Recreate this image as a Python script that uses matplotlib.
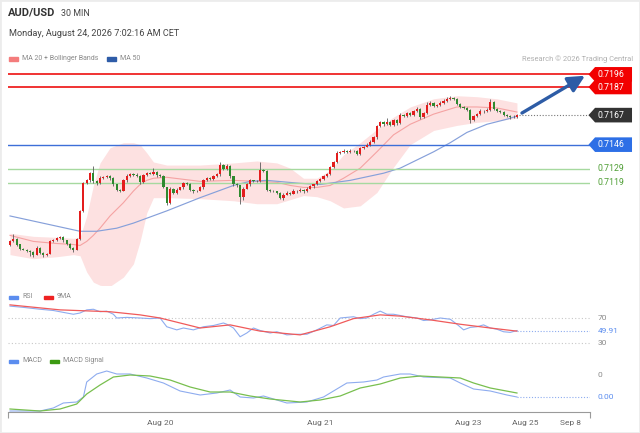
import numpy as np
import matplotlib
matplotlib.use("Agg")
import matplotlib.pyplot as plt
from matplotlib.path import Path
from matplotlib.patches import Rectangle

plt.rcParams['font.family'] = ['Roboto', 'DejaVu Sans']

# ---------------- data ----------------
first_open = 0.70750
closes = [
    0.70772, 0.70787, 0.70750, 0.70721, 0.70714, 0.70707, 0.70699, 0.70678, 0.70728, 0.70692,
    0.70678, 0.70685, 0.70772, 0.70779, 0.70794, 0.70801, 0.70779, 0.70757, 0.70728, 0.70714,
    0.70787, 0.70989, 0.71185, 0.71206, 0.71257, 0.71199, 0.71185, 0.71221, 0.71228, 0.71235,
    0.71221, 0.71177, 0.71141, 0.71134, 0.71206, 0.71235, 0.71250, 0.71243, 0.71235, 0.71192,
    0.71243, 0.71257, 0.71254, 0.71264, 0.71243, 0.71235, 0.71156, 0.71047, 0.71148, 0.71119,
    0.71141, 0.71156, 0.71185, 0.71182, 0.71141, 0.71127, 0.71134, 0.71156, 0.71206, 0.71221,
    0.71218, 0.71235, 0.71250, 0.71315, 0.71286, 0.71308, 0.71235, 0.71177, 0.71170, 0.71090,
    0.71148, 0.71177, 0.71206, 0.71199, 0.71202, 0.71279, 0.71272, 0.71141, 0.71134, 0.71127,
    0.71119, 0.71083, 0.71105, 0.71119, 0.71112, 0.71134, 0.71127, 0.71141, 0.71127, 0.71148,
    0.71163, 0.71177, 0.71199, 0.71214, 0.71235, 0.71250, 0.71301, 0.71337, 0.71402, 0.71409,
    0.71417, 0.71409, 0.71417, 0.71414, 0.71395, 0.71438, 0.71446, 0.71460, 0.71482, 0.71511,
    0.71590, 0.71619, 0.71605, 0.71619, 0.71598, 0.71634, 0.71612, 0.71670, 0.71663, 0.71685,
    0.71670, 0.71699, 0.71714, 0.71656, 0.71685, 0.71743, 0.71757, 0.71735, 0.71740, 0.71757,
    0.71772, 0.71786, 0.71793, 0.71786, 0.71750, 0.71728, 0.71721, 0.71706, 0.71634, 0.71663,
    0.71677, 0.71699, 0.71696, 0.71706, 0.71764, 0.71714, 0.71699, 0.71692, 0.71670, 0.71663,
    0.71660, 0.71656, 0.71670]
upper_wick_pips = [
    0.8, 4.0, 0.6, 0.6, 0.5, 0.6, 0.5, 0.6, 0.8, 0.6,
    0.5, 0.6, 1.0, 0.8, 1.0, 0.8, 0.6, 0.5, 0.6, 0.5,
    0.8, 0.5, 1.0, 0.8, 1.0, 5.0, 0.8, 1.5, 0.6, 1.2,
    0.6, 0.8, 0.5, 0.6, 1.0, 1.5, 1.0, 0.6, 1.2, 0.8,
    1.0, 0.8, 1.0, 3.0, 0.6, 0.8, 0.8, 0.5, 1.0, 0.6,
    0.8, 0.6, 1.0, 0.8, 0.6, 0.5, 0.6, 0.8, 1.0, 0.8,
    0.6, 0.8, 1.0, 2.0, 1.0, 1.2, 0.6, 0.5, 0.8, 0.5,
    1.0, 0.8, 1.0, 0.6, 0.8, 6.0, 1.0, 0.5, 0.6, 0.5,
    0.6, 0.5, 0.8, 0.8, 0.6, 0.8, 0.6, 0.8, 0.5, 0.8,
    0.8, 0.6, 0.8, 1.0, 0.8, 1.0, 1.0, 0.8, 1.2, 0.8,
    1.0, 0.6, 1.0, 0.6, 0.5, 0.8, 0.8, 1.0, 0.8, 1.0,
    1.0, 1.0, 0.8, 3.0, 0.6, 1.0, 0.8, 1.5, 0.8, 1.0,
    0.6, 1.0, 1.2, 0.6, 0.8, 2.0, 1.0, 0.6, 0.8, 1.0,
    1.0, 1.5, 1.5, 0.8, 0.6, 0.5, 0.8, 0.6, 0.8, 1.0,
    1.0, 1.2, 0.8, 1.5, 2.0, 0.8, 0.6, 0.6, 0.5, 0.8,
    0.6, 0.8, 1.0]
lower_wick_pips = [
    0.8, 0.6, 1.0, 0.8, 0.6, 0.8, 3.0, 1.5, 0.6, 1.0,
    2.0, 0.8, 0.6, 0.5, 0.6, 0.8, 0.8, 1.0, 0.8, 2.0,
    0.6, 0.5, 0.8, 0.6, 0.8, 1.0, 1.2, 0.6, 0.8, 0.6,
    1.0, 0.8, 1.2, 1.0, 0.6, 0.8, 0.6, 0.8, 0.8, 1.0,
    0.6, 0.8, 0.6, 0.8, 1.0, 0.8, 0.6, 1.5, 0.8, 1.0,
    0.8, 0.6, 0.8, 0.6, 1.0, 0.8, 0.6, 0.6, 0.8, 0.6,
    0.8, 0.6, 0.8, 1.0, 0.8, 0.6, 1.0, 0.8, 0.8, 5.0,
    2.0, 0.6, 0.8, 0.6, 0.8, 0.6, 0.8, 1.0, 0.8, 0.6,
    0.8, 1.0, 2.0, 0.6, 0.8, 0.6, 0.8, 0.6, 0.8, 0.6,
    0.6, 0.8, 0.6, 0.8, 0.6, 0.8, 0.6, 0.8, 0.6, 0.6,
    0.8, 0.6, 0.6, 0.8, 1.0, 0.6, 0.8, 0.6, 0.6, 0.8,
    0.8, 0.6, 1.0, 0.6, 0.8, 0.6, 1.0, 0.6, 0.8, 0.6,
    0.8, 0.6, 0.6, 1.0, 0.8, 0.6, 0.6, 0.8, 0.6, 0.6,
    0.6, 0.6, 0.6, 0.8, 0.8, 0.6, 0.8, 0.8, 2.0, 0.8,
    0.6, 0.6, 0.8, 0.6, 0.6, 1.0, 0.8, 0.6, 0.8, 0.8,
    1.5, 0.8, 0.6]

# Bollinger (MA20 + bands), sampled along the candle index
bb_idx = [0, 7, 14, 19, 21, 23, 25, 27, 30, 34, 37, 39, 41, 43, 47, 57, 67, 74, 80,
          84, 88, 92, 96, 100, 105, 110, 115, 120, 127, 134, 140, 146, 152]
bb_upper = [0.70830, 0.70808, 0.70801, 0.70794, 0.70801, 0.70953, 0.71170, 0.71330,
            0.71438, 0.71474, 0.71474, 0.71460, 0.71402, 0.71337, 0.71315, 0.71315,
            0.71330, 0.71344, 0.71330, 0.71293, 0.71221, 0.71221, 0.71279, 0.71388,
            0.71474, 0.71569, 0.71656, 0.71728, 0.71786, 0.71808, 0.71801, 0.71786, 0.71757]
bb_lower = [0.70678, 0.70649, 0.70663, 0.70678, 0.70670, 0.70554, 0.70482, 0.70460,
            0.70453, 0.70518, 0.70612, 0.70772, 0.70975, 0.71083, 0.71083, 0.71076,
            0.71061, 0.71040, 0.71040, 0.71069, 0.71098, 0.71090, 0.71061, 0.71010,
            0.71025, 0.71120, 0.71300, 0.71460, 0.71561, 0.71597, 0.71619, 0.71630, 0.71648]
ma20 = [0.70815, 0.70772, 0.70757, 0.70750, 0.70743, 0.70772, 0.70815, 0.70866,
        0.70953, 0.71047, 0.71130, 0.71177, 0.71206, 0.71221, 0.71228, 0.71199,
        0.71206, 0.71199, 0.71192, 0.71170, 0.71156, 0.71156, 0.71170, 0.71221,
        0.71293, 0.71409, 0.71530, 0.71605, 0.71677, 0.71728, 0.71728, 0.71721, 0.71692]

ma50_idx = [0, 21, 26, 32, 37, 47, 57, 67, 72, 77, 87, 93, 102, 112, 117, 127, 132,
            137, 143, 149, 152]
ma50 = [0.70953, 0.70844, 0.70844, 0.70866, 0.70902, 0.70989, 0.71083, 0.71170,
        0.71199, 0.71206, 0.71185, 0.71177, 0.71206, 0.71257, 0.71293, 0.71409,
        0.71474, 0.71547, 0.71605, 0.71641, 0.71663]

resistances = [0.7196, 0.7187]
pivot = 0.7146
supports = [0.7129, 0.7119]
last_price = 0.7167
arrow_start = (153.5, 0.71685)
arrow_end = (172.4, 0.71950)

rsi_idx = [0, 4, 9, 13, 16, 19, 21, 23, 25, 27, 29, 31, 32, 35, 39, 42, 45, 47, 50,
           52, 55, 58, 61, 64, 65, 67, 69, 71, 73, 75, 78, 80, 83, 86, 89, 92, 95,
           97, 99, 101, 103, 105, 107, 109, 111, 113, 115, 117, 119, 122, 124, 126,
           129, 132, 134, 136, 138, 140, 142, 144, 146, 148, 150, 152]
rsi = [89, 87, 84, 82, 79, 76, 78, 83, 84, 80, 81, 76, 70, 71, 70, 69, 70, 56, 51,
       54, 51, 56, 58, 62, 60, 54, 40, 46, 54, 50, 46, 48, 43, 44, 44, 51, 59,
       58, 70, 71, 72, 69, 70, 76, 81, 76, 76, 74, 72, 70, 66, 67,
       70, 68, 60, 51, 55, 56, 59, 54, 52, 48, 47, 49.91]
rsi_ma_idx = [0, 15, 30, 39, 45, 57, 66, 75, 87, 96, 103, 111, 117, 126, 135, 144, 152]
rsi_ma = [91, 83, 80, 75, 70, 54, 59, 49, 43, 56, 69, 75, 73, 67, 60, 54, 49]

macd_idx = [0, 4, 9, 13, 16, 20, 22, 23, 26, 29, 32, 36, 41, 46, 51, 57, 62, 66, 69,
            73, 76, 83, 89, 94, 97, 101, 106, 110, 112, 117, 120, 124, 132, 135, 139,
            144, 149, 152]
macd = [-0.00072, -0.00072, -0.00072, -0.00066, -0.00056, -0.00054, -0.00044, -0.00014,
        0.00002, 0.00008, 0.00002, 0.00002, -0.00006, -0.00016, -0.00032, -0.00040,
        -0.00036, -0.00030, -0.00044, -0.00046, -0.00042, -0.00056, -0.00054, -0.00044,
        -0.00032, -0.00016, -0.00014, -0.00010, -0.00004, 0.00002, 0.00002, -0.00004,
        -0.00006, -0.00016, -0.00028, -0.00032, -0.00040, -0.00044]
signal_idx = [0, 9, 15, 20, 23, 27, 31, 36, 42, 48, 54, 60, 66, 72, 78, 87, 93, 99,
              105, 111, 117, 123, 129, 135, 139, 144, 152]
signal = [-0.00068, -0.00072, -0.00068, -0.00058, -0.00038, -0.00020, -0.00004, 0.00000,
          -0.00002, -0.00010, -0.00024, -0.00034, -0.00034, -0.00042, -0.00048, -0.00054,
          -0.00050, -0.00042, -0.00026, -0.00018, -0.00006, -0.00002, -0.00004, -0.00006,
          -0.00016, -0.00026, -0.00036]

date_ticks = [45, 93, 137.5, 154.5, 168]
date_labels = ['Aug 20', 'Aug 21', 'Aug 23', 'Aug 25', 'Sep 8']

# ---------------- layout helpers ----------------
W, H = 640, 433
fig = plt.figure(figsize=(6.4, 4.33), dpi=100)
fig.patch.set_facecolor('white')


def fx(px):
    return px / W


def fy(py):
    return 1 - py / H


XLIM = (-0.6, 173.9)
RED = '#e31d1d'
GREEN = '#2f8a2f'
GREY_TXT = '#8a8a8a'


def tag_box(x0, y0, width, height, mutation_size):
    pad = 0.32 * mutation_size
    x0, y0 = x0 - pad, y0 - pad
    width, height = width + 2 * pad, height + 2 * pad
    ym = y0 + height / 2
    tip = height * 0.45
    x1 = x0 + width + 1.6 * pad
    verts = [(x0 - tip, ym), (x0, y0), (x1, y0), (x1, y0 + height),
             (x0, y0 + height), (x0 - tip, ym)]
    return Path(verts, closed=True)


# ---------------- main price panel ----------------
ax = fig.add_axes([fx(8), fy(285), 582 / W, 225 / H])
ax.set_xlim(*XLIM)
ax.set_ylim(0.70462, 0.72062)
ax.axis('off')

ax.fill_between(bb_idx, bb_lower, bb_upper, color='#fde1e1', lw=0, zorder=1)
ax.plot(bb_idx, ma20, color='#f5a3a3', lw=0.8, zorder=2)
ax.plot(ma50_idx, ma50, color='#86a0da', lw=0.85, zorder=2)

for r in resistances:
    ax.axhline(r, color='#ee1111', lw=1.2, zorder=2)
ax.axhline(pivot, color='#3d6fd8', lw=1.0, zorder=2)
for s in supports:
    ax.axhline(s, color='#a6d99f', lw=1.0, zorder=2)

c = np.array(closes)
idx = np.arange(len(c))
o = np.r_[first_open, c[:-1]]
up = c >= o
top = np.maximum(o, c)
bot = np.minimum(o, c)
highs = top + np.array(upper_wick_pips) * 1e-4
lows = bot - np.array(lower_wick_pips) * 1e-4
ax.vlines(idx, lows, highs, color='#5a5a5a', lw=0.6, zorder=3)
ax.bar(idx, np.maximum(top - bot, 0.000025), bottom=bot, width=0.66,
       color=np.where(up, RED, GREEN), lw=0, zorder=4)

ax.hlines(last_price, idx[-1] + 0.5, XLIM[1], colors='#777777', lw=0.8,
          linestyles=(0, (1, 1.6)), zorder=2)
ax.annotate('', xy=arrow_end, xytext=arrow_start,
            arrowprops=dict(arrowstyle='-|>,head_length=1.0,head_width=0.5',
                            color='#2d5ca6', lw=2.4, shrinkA=0, shrinkB=0),
            zorder=6)

ytr = ax.get_yaxis_transform()
lab_x = 1.0135
for r in resistances:
    ax.text(lab_x, r, f'{r:.4f}', transform=ytr, ha='left', va='center', color='white',
            fontsize=6.3, clip_on=False,
            bbox=dict(boxstyle=tag_box, fc='#f20000', ec='none'))
ax.text(lab_x, last_price, f'{last_price:.4f}', transform=ytr, ha='left', va='center',
        color='white', fontsize=6.3, clip_on=False,
        bbox=dict(boxstyle=tag_box, fc='#333333', ec='none'))
ax.text(lab_x, pivot, f'{pivot:.4f}', transform=ytr, ha='left', va='center',
        color='white', fontsize=6.3, clip_on=False,
        bbox=dict(boxstyle=tag_box, fc='#2d6fe6', ec='none'))
for s in supports:
    ax.text(lab_x, s, f'{s:.4f}', transform=ytr, ha='left', va='center',
            color='#4f9e35', fontsize=6.3, clip_on=False)

# ---------------- RSI panel ----------------
ax_r = fig.add_axes([fx(8), fy(348), 582 / W, 48 / H])
ax_r.set_xlim(*XLIM)
ax_r.set_ylim(22, 98.8)
ax_r.axis('off')
for lvl in (70, 30):
    ax_r.axhline(lvl, color='#c8c8c8', lw=0.8, ls=(0, (1, 2)))
ax_r.plot(rsi_idx, rsi, color='#8eacef', lw=0.8)
ax_r.plot(rsi_ma_idx, rsi_ma, color='#f05a5a', lw=0.9)
ax_r.hlines(rsi[-1], rsi_idx[-1], XLIM[1], colors='#8eacef', lw=0.8,
            linestyles=(0, (1, 1.6)))
ytr_r = ax_r.get_yaxis_transform()
ax_r.text(lab_x, 70, '70', transform=ytr_r, ha='left', va='center', color=GREY_TXT,
          fontsize=6.0, clip_on=False)
ax_r.text(lab_x, 30, '30', transform=ytr_r, ha='left', va='center', color=GREY_TXT,
          fontsize=6.0, clip_on=False)
ax_r.text(lab_x, rsi[-1], f'{rsi[-1]:.2f}', transform=ytr_r, ha='left', va='center',
          color='#5b8def', fontsize=6.0, clip_on=False)

# ---------------- MACD panel ----------------
ax_m = fig.add_axes([fx(8), fy(412), 582 / W, 47 / H])
ax_m.set_xlim(*XLIM)
ax_m.set_ylim(-0.00074, 0.0002)
for sp in ('top', 'right', 'left'):
    ax_m.spines[sp].set_visible(False)
ax_m.spines['bottom'].set_color('#9a9a9a')
ax_m.spines['bottom'].set_linewidth(0.8)
ax_m.set_yticks([])
ax_m.set_xticks(date_ticks)
ax_m.set_xticklabels(date_labels)
ax_m.tick_params(axis='x', length=0, labelsize=6.0, labelcolor='#666666', pad=5.5)
ax_m.set_xticks([XLIM[0] + 0.05, XLIM[1] - 0.05], minor=True)
ax_m.tick_params(axis='x', which='minor', length=4, color='#9a9a9a', width=0.8)
ax_m.plot(macd_idx, macd, color='#8eacef', lw=0.8)
ax_m.plot(signal_idx, signal, color='#78bf4e', lw=0.9)
ax_m.hlines(macd[-1], macd_idx[-1], XLIM[1], colors='#8eacef', lw=0.8,
            linestyles=(0, (1, 1.6)))
ytr_m = ax_m.get_yaxis_transform()
ax_m.text(lab_x, 0.0, '0', transform=ytr_m, ha='left', va='center', color=GREY_TXT,
          fontsize=6.0, clip_on=False)
ax_m.text(lab_x, macd[-1], f'{round(macd[-1], 2) + 0.0:.2f}', transform=ytr_m,
          ha='left', va='center', color='#5b8def', fontsize=6.0, clip_on=False)

# ---------------- header & legends ----------------
fig.text(fx(8), fy(13), 'AUD/USD', fontsize=8.0, fontweight='bold', color='#333333',
         va='center')
fig.text(fx(61), fy(13), '30 MIN', fontsize=6.4, color='#444444', va='center')
fig.text(fx(9), fy(33.5), 'Monday, August 24, 2026 7:02:16 AM CET', fontsize=6.6,
         color='#444444', va='center')
fig.text(fx(633), fy(59), 'Research \u00a9 2026 Trading Central', fontsize=5.4,
         color='#b0b0b0', va='center', ha='right')


def legend_item(x, y, color, label):
    fig.patches.append(Rectangle((fx(x), fy(y + 1.5)), 9 / W, 3 / H, color=color,
                                 transform=fig.transFigure, figure=fig))
    fig.text(fx(x + 13), fy(y), label, fontsize=5.0, color=GREY_TXT, va='center')


legend_item(9, 59, '#f47c7c', 'MA 20 + Bollinger Bands')
legend_item(107, 59, '#2e5ca8', 'MA 50')
legend_item(9, 297, '#5b8def', 'RSI')
legend_item(44, 297, '#ee2222', '9MA')
legend_item(9, 361, '#5b8def', 'MACD')
legend_item(50, 361, '#3c9a12', 'MACD Signal')

fig.patches.append(Rectangle((0, 0), 1, 1, fill=False, ec='#ececec', lw=2,
                             transform=fig.transFigure, figure=fig))

fig.savefig('out.png', dpi=100, facecolor='white')
